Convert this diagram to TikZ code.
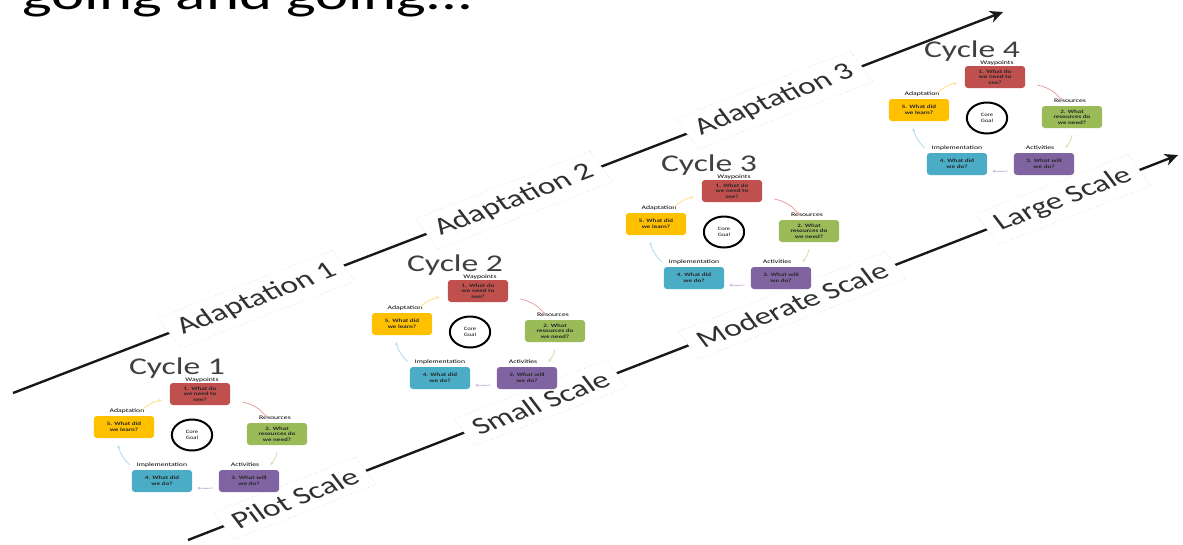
\documentclass[tikz,border=0pt]{standalone}
\usepackage{fontspec}
\setmainfont{Carlito}
\usetikzlibrary{arrows.meta}

\definecolor{cred}{HTML}{C0504D}
\definecolor{cgreen}{HTML}{9BBB59}
\definecolor{cpurple}{HTML}{8064A2}
\definecolor{cblue}{HTML}{4BACC6}
\definecolor{cyellow}{HTML}{FFC000}
\definecolor{arred}{HTML}{E6A3A2}
\definecolor{argreen}{HTML}{CFE0A8}
\definecolor{arpurple}{HTML}{C8B8DC}
\definecolor{arblue}{HTML}{A8DCEA}
\definecolor{aryellow}{HTML}{FFE08A}
\definecolor{inkgray}{HTML}{303030}

\tikzset{
  timeline/.style={line width=2.4pt, draw=black!90,
    -{Stealth[length=13pt,width=12pt,inset=4pt]}},
  phaselabel/.style={font=\fontsize{24}{28}\selectfont, text=inkgray,
    fill=white, draw=gray!30, dotted, line width=0.6pt,
    inner xsep=8pt, inner ysep=7pt, xscale=1.4, rotate=28.4},
  cyctitle/.style={font=\fontsize{24}{28}\selectfont, text=black!75,
    inner sep=0pt, xscale=1.4},
  stagebox/.style={rounded corners=3pt, xscale=1.4, minimum width=43pt,
    minimum height=22pt, inner sep=1pt, align=center,
    font=\fontsize{5}{5.6}\selectfont\bfseries, text=black!85},
  tag/.style={xscale=1.4, font=\fontsize{5.5}{6.5}\selectfont, inner sep=0pt},
  corenode/.style={circle, draw=black, line width=2pt, minimum size=31pt,
    xscale=1.3, align=center, font=\fontsize{5}{5.8}\selectfont, inner sep=0pt},
  cyarrow/.style={line width=0.8pt, -{Stealth[length=3pt,width=3pt]}},
  pics/cycle/.style={code={
    \node[cyctitle] (-title) at (-23,-26) {Cycle #1};
    % the five stages around the core goal
    \node[stagebox, fill=cred]    (-red)    at (0,0)    {1. What do\\we need to\\see?};
    \node[stagebox, fill=cgreen]  (-green)  at (77,40)  {2. What\\resources do\\we need?};
    \node[stagebox, fill=cpurple] (-purple) at (49,87)  {3. What will\\we do?};
    \node[stagebox, fill=cblue]   (-blue)   at (-38,87) {4. What did\\we do?};
    \node[stagebox, fill=cyellow] (-yellow) at (-76,33) {5. What did\\we learn?};
    % stage names
    \node[tag] (-wp)  at (2,-14)  {Waypoints};
    \node[tag] (-res) at (75,24)  {Resources};
    \node[tag] (-act) at (45,71)  {Activities};
    \node[tag] (-imp) at (-38,71) {Implementation};
    \node[tag] (-ada) at (-73,17) {Adaptation};
    \node[corenode] (-core) at (-8,41) {Core\\Goal};
    % clockwise flow between stages
    \draw[cyarrow, arred]    ([shift={(12,8)}]-red.east) to[bend left=20] ([shift={(-10,-5)}]-green.north);
    \draw[cyarrow, argreen]  ([shift={(0,7)}]-green.south) to[bend left=15] ([shift={(-9,-5)}]-purple.north east);
    \draw[cyarrow, arpurple] ([shift={(-6,7)}]-purple.west) to[bend left=5] ([shift={(5,7)}]-blue.east);
    \draw[cyarrow, arblue]   ([shift={(-2,-5)}]-blue.north west) to[bend left=15] ([shift={(-6,7)}]-yellow.south);
    \draw[cyarrow, aryellow] ([shift={(-12,-6)}]-yellow.north east) to[bend left=15] ([shift={(-8,6)}]-red.west);
  }}
}

\begin{document}
\begin{tikzpicture}[x=1pt,y=-1pt]
\path[use as bounding box, clip] (0,0) rectangle (1183,544);
\fill[white] (0,0) rectangle (1183,544);

% heading, partly above the page edge
\node[anchor=base west, font=\fontsize{44}{50}\selectfont, xscale=1.43,
  inner sep=0pt] (heading) at (22,9) {going and going...};

% adaptation axis
\coordinate (u0) at (13,393);
\coordinate (u1) at (1003,12);
\draw[timeline] (u0) --
  node[phaselabel, pos=0.246] (ad1) {Adaptation 1}
  node[phaselabel, pos=0.506] (ad2) {Adaptation 2}
  node[phaselabel, pos=0.769] (ad3) {Adaptation 3} (u1);

% scale axis
\coordinate (l0) at (188,540);
\coordinate (l1) at (1178,155);
\draw[timeline] (l0) --
  node[phaselabel, pos=0.108] (sc1) {Pilot Scale}
  node[phaselabel, pos=0.356] (sc2) {Small Scale}
  node[phaselabel, pos=0.610] (sc3) {Moderate Scale}
  node[phaselabel, pos=0.884] (sc4) {Large Scale} (l1);

% the four cycles
\pic (c1) at (200,394) {cycle=1};
\pic (c2) at (478,291) {cycle=2};
\pic (c3) at (732,191) {cycle=3};
\pic (c4) at (995,77)  {cycle=4};
\end{tikzpicture}
\end{document}
